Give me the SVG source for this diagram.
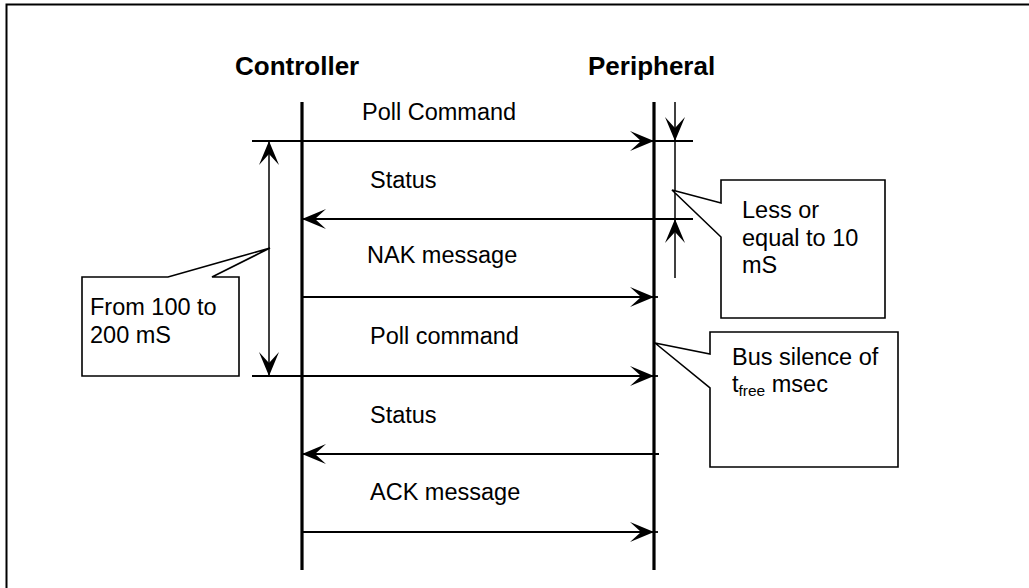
<svg xmlns="http://www.w3.org/2000/svg" width="1029" height="588" viewBox="0 0 1029 588">
<style>
.t{font-family:"Liberation Sans",Arial,sans-serif;font-size:23.5px;fill:#000}
.h{font-family:"Liberation Sans",Arial,sans-serif;font-size:26px;font-weight:bold;fill:#000}
.ll{stroke:#000;stroke-width:3.2;fill:none}
.ar{stroke:#000;stroke-width:1.8;fill:none}
.thin{stroke:#000;stroke-width:1.5;fill:none}
.co{stroke:#000;stroke-width:1.6;fill:#fff}
</style>
<defs>
<marker id="ah" viewBox="0 0 24 20" refX="24" refY="10" markerWidth="24" markerHeight="20" markerUnits="userSpaceOnUse" orient="auto-start-reverse">
<path d="M0,0 L24,10 L0,20 L11,10 Z" fill="#000"/>
</marker>
</defs>
<rect width="1029" height="588" fill="#fff"/>
<path d="M6.5,588 V4.5 H1029" stroke="#000" stroke-width="2" fill="none"/>

<g id="controller">
<text class="h" x="235" y="75">Controller</text>
<line class="ll" x1="302" y1="102" x2="302" y2="570"/>
</g>
<g id="peripheral">
<text class="h" x="588" y="75">Peripheral</text>
<line class="ll" x1="654" y1="102" x2="654" y2="570"/>
</g>

<g id="connectors">
<line class="ar" x1="252" y1="141" x2="654" y2="141" marker-end="url(#ah)"/>
<line class="ar" x1="654" y1="141" x2="693" y2="141"/>
<text class="t" x="362" y="120">Poll Command</text>

<line class="ar" x1="693" y1="219" x2="302" y2="219" marker-end="url(#ah)"/>
<text class="t" x="370" y="188">Status</text>

<line class="ar" x1="302" y1="297" x2="654" y2="297" marker-end="url(#ah)"/>
<line class="ar" x1="654" y1="297" x2="658" y2="297"/>
<text class="t" x="367" y="263">NAK message</text>

<line class="ar" x1="252" y1="376" x2="654" y2="376" marker-end="url(#ah)"/>
<line class="ar" x1="654" y1="376" x2="658" y2="376"/>
<text class="t" x="370" y="344">Poll command</text>

<line class="ar" x1="659" y1="454" x2="302" y2="454" marker-end="url(#ah)"/>
<text class="t" x="370" y="423">Status</text>

<line class="ar" x1="302" y1="532" x2="654" y2="532" marker-end="url(#ah)"/>
<line class="ar" x1="654" y1="532" x2="658" y2="532"/>
<text class="t" x="370" y="500">ACK message</text>

<line class="thin" x1="269" y1="141" x2="269" y2="376" marker-start="url(#ah)" marker-end="url(#ah)"/>
<line class="thin" x1="675" y1="102" x2="675" y2="141" marker-end="url(#ah)"/>
<line class="thin" x1="675" y1="141" x2="675" y2="219"/>
<line class="thin" x1="675" y1="278" x2="675" y2="219" marker-end="url(#ah)"/>
</g>

<g id="callout-range">
<path class="co" d="M82,277 H168 L270,248 L212,277 H239 V376 H82 Z"/>
<text class="t" x="90" y="315">From 100 to</text>
<text class="t" x="90" y="343">200 mS</text>
</g>

<g id="callout-response">
<path class="co" d="M721,180 H885 V318 H721 V237 L672,190 L721,203 Z"/>
<text class="t" x="742" y="218">Less or</text>
<text class="t" x="742" y="246">equal to 10</text>
<text class="t" x="742" y="273">mS</text>
</g>

<g id="callout-silence">
<path class="co" d="M710,332 H898 V467 H710 V388 L655,343 L710,354 Z"/>
<text class="t" x="732" y="365">Bus silence of</text>
<text class="t" x="732" y="392">t<tspan font-size="15.5" dy="4">free</tspan><tspan dy="-4"> msec</tspan></text>
</g>
</svg>
